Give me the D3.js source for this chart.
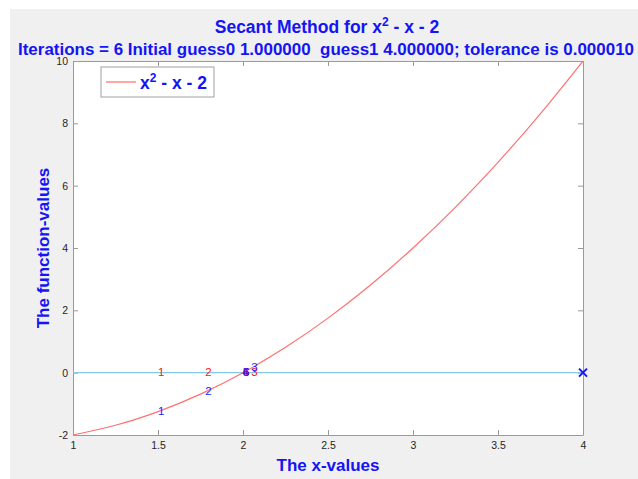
<!DOCTYPE html>
<html>
<head>
<meta charset="utf-8">
<script src="https://cdn.jsdelivr.net/npm/d3@7"></script>
<style>
  html, body { margin: 0; padding: 0; background: #ffffff; }
  svg { display: block; font-family: "Liberation Sans", Arial, Helvetica, sans-serif; }
</style>
</head>
<body>
<svg id="chart" width="638" height="479"></svg>
<script>
// f(x) = x^2 - x - 2 sampled on [1, 4]
const curveX = [1, 1.25, 1.5, 1.75, 2, 2.25, 2.5, 2.75, 3, 3.25, 3.5, 3.75, 4];
const curveY = [-2, -1.6875, -1.25, -0.6875, 0, 0.8125, 1.75, 2.8125, 4, 5.3125, 6.75, 8.3125, 10];

// secant iterates and the function value at each one
const iterLabels = ["1", "2", "3", "4", "5", "6"];
const iterX = [1.5, 1.7778, 2.0488, 1.9962, 1.99994, 2.0000];
const iterF = [-1.25, -0.6173, 0.1487, -0.0114, -0.0002, 0.0000];

// y = 0 reference line and the end marker
const zeroLineX = [1, 4];
const markerX = [4];
const markerY = [0];

const xTicks = [1, 1.5, 2, 2.5, 3, 3.5, 4];
const xTickLabels = ["1", "1.5", "2", "2.5", "3", "3.5", "4"];
const yTicks = [-2, 0, 2, 4, 6, 8, 10];
const yTickLabels = ["-2", "0", "2", "4", "6", "8", "10"];

const svg = d3.select("#chart");
const W = 638, H = 479;
const plot = { left: 73, right: 583, top: 61, bottom: 435 };

const x = d3.scaleLinear().domain([1, 4]).range([plot.left, plot.right]);
const y = d3.scaleLinear().domain([-2, 10]).range([plot.bottom, plot.top]);

const BLUE = "#1414f5";

// figure background
svg.append("rect").attr("x", 10).attr("y", 9).attr("width", W - 10).attr("height", H - 9)
  .attr("fill", "#f0f0f0");

// axes background
svg.append("rect")
  .attr("x", plot.left).attr("y", plot.top)
  .attr("width", plot.right - plot.left).attr("height", plot.bottom - plot.top)
  .attr("fill", "#ffffff");

// axes with inward ticks on all four sides
function styleAxis(g) {
  g.selectAll(".domain").attr("stroke", "#9a9a9a").attr("stroke-width", 1);
  g.selectAll(".tick line").attr("stroke", "#9a9a9a");
  g.selectAll(".tick text").attr("fill", "#262626")
    .style("font-size", "10.5px").style("font-family", "'Liberation Sans', Arial, sans-serif");
}

svg.append("g").attr("transform", `translate(0,${plot.bottom})`)
  .call(d3.axisBottom(x).tickValues(xTicks).tickFormat((d, i) => xTickLabels[i])
    .tickSizeInner(-5).tickSizeOuter(0).tickPadding(7))
  .call(styleAxis);
svg.append("g").attr("transform", `translate(0,${plot.top})`)
  .call(d3.axisTop(x).tickValues(xTicks).tickFormat("").tickSizeInner(-5).tickSizeOuter(0))
  .call(styleAxis);
svg.append("g").attr("transform", `translate(${plot.left},0)`)
  .call(d3.axisLeft(y).tickValues(yTicks).tickFormat((d, i) => yTickLabels[i])
    .tickSizeInner(-5).tickSizeOuter(0).tickPadding(5))
  .call(styleAxis);
svg.append("g").attr("transform", `translate(${plot.right},0)`)
  .call(d3.axisRight(y).tickValues(yTicks).tickFormat("").tickSizeInner(-5).tickSizeOuter(0))
  .call(styleAxis);

// y = 0 line
svg.append("line")
  .attr("x1", x(zeroLineX[0])).attr("x2", x(zeroLineX[1]))
  .attr("y1", y(0)).attr("y2", y(0))
  .attr("stroke", "#84c9e6").attr("stroke-width", 1.2);

// function curve
const line = d3.line().x(d => x(d[0])).y(d => y(d[1])).curve(d3.curveNatural);
svg.append("path")
  .datum(curveX.map((v, i) => [v, curveY[i]]))
  .attr("d", line)
  .attr("fill", "none").attr("stroke", "#ff7070").attr("stroke-width", 1.2);

// iteration numbers: red on the axis, blue on the curve
const labels = svg.append("g").style("font-size", "11.5px");
iterLabels.forEach((t, i) => {
  labels.append("text").attr("x", x(iterX[i])).attr("y", y(0))
    .attr("dominant-baseline", "middle").attr("fill", "#ff1010").text(t);
  labels.append("text").attr("x", x(iterX[i])).attr("y", y(iterF[i]))
    .attr("dominant-baseline", "middle").attr("fill", "#2020ff").text(t);
});

// x marker at the end of the zero line
markerX.forEach((mx, i) => {
  const cx = x(mx), cy = y(markerY[i]), s = 4;
  svg.append("path")
    .attr("d", `M${cx - s},${cy - s}L${cx + s},${cy + s}M${cx - s},${cy + s}L${cx + s},${cy - s}`)
    .attr("stroke", BLUE).attr("stroke-width", 2).attr("fill", "none");
});

// legend
const lg = svg.append("g");
lg.append("rect").attr("x", 101).attr("y", 67).attr("width", 113).attr("height", 30)
  .attr("fill", "#ffffff").attr("stroke", "#a0a0a0").attr("stroke-width", 1);
lg.append("line").attr("x1", 106).attr("x2", 136).attr("y1", 82).attr("y2", 82)
  .attr("stroke", "#ff8a8a").attr("stroke-width", 1.5);
const lt = lg.append("text").attr("x", 140).attr("y", 89)
  .attr("fill", BLUE).style("font-weight", "bold").style("font-size", "17.5px");
lt.append("tspan").text("x");
lt.append("tspan").attr("dy", -7).style("font-size", "12px").text("2");
lt.append("tspan").attr("dy", 7).text(" - x - 2");

// titles
const cx = (plot.left + plot.right) / 2;
const t1 = svg.append("text").attr("x", cx - 1).attr("y", 33).attr("text-anchor", "middle")
  .attr("fill", BLUE).style("font-weight", "bold").style("font-size", "17.5px");
t1.append("tspan").text("Secant Method for x");
t1.append("tspan").attr("dy", -7).style("font-size", "12px").text("2");
t1.append("tspan").attr("dy", 7).text(" - x - 2");

svg.append("text").attr("x", cx - 2).attr("y", 54.5).attr("text-anchor", "middle")
  .attr("fill", BLUE).style("font-weight", "bold").style("font-size", "17px")
  .attr("textLength", 616).attr("lengthAdjust", "spacingAndGlyphs")
  .style("white-space", "pre")
  .text("Iterations = 6 Initial guess0 1.000000  guess1 4.000000; tolerance is 0.000010");

// axis titles
svg.append("text").attr("x", cx).attr("y", 471).attr("text-anchor", "middle")
  .attr("fill", BLUE).style("font-weight", "bold").style("font-size", "17px")
  .text("The x-values");
svg.append("text").attr("transform", `translate(49,${(plot.top + plot.bottom) / 2}) rotate(-90)`)
  .attr("text-anchor", "middle")
  .attr("fill", BLUE).style("font-weight", "bold").style("font-size", "17px")
  .text("The function-values");
</script>
</body>
</html>
